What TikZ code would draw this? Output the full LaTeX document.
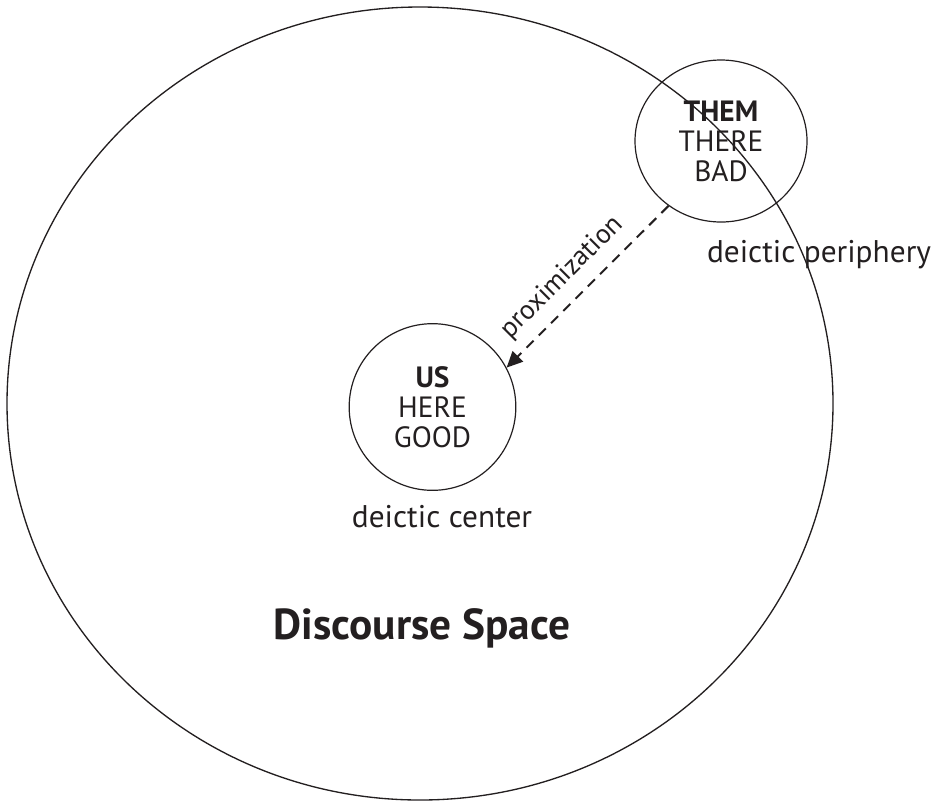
\documentclass[tikz,border=0pt]{standalone}
\usepackage{fontspec}
\setmainfont{PT Sans}
\usetikzlibrary{shapes.geometric, arrows.meta}
\definecolor{ink}{RGB}{35, 31, 32}

\begin{document}
\begin{tikzpicture}[x=0.75pt, y=-0.75pt,
    space/.style={ellipse, draw=ink, line width=1pt, inner sep=0pt,
                  minimum width=619.5pt, minimum height=594.75pt},
    zone/.style={ellipse, draw=ink, line width=0.9pt, inner sep=0pt,
                 align=center, text=ink, font=\fontsize{22}{22.5}\selectfont},
    tag/.style={text=ink, font=\fontsize{23.5}{26}\selectfont},
    arrow/.style={-{Triangle[length=12pt, width=11pt]}, draw=ink,
                  dash pattern=on 7.5pt off 5.5pt, line width=1.5pt}
]
\useasboundingbox (0,0) rectangle (938,801);

%% -- discourse space ---------------------------------------------------------
\node[space] (space) at (420, 403.5) {};
\node[text=ink, font=\fontsize{32.5}{36}\selectfont\bfseries] (title) at (422, 628) {Discourse Space};

%% -- centre and periphery ----------------------------------------------------
\node[zone, minimum width=125pt, minimum height=125pt] (us) at (432.5, 407)
    {\textbf{US}\\HERE\\GOOD};
\node[zone, minimum width=129pt, minimum height=121.5pt] (them) at (721, 141)
    {\textbf{THEM}\\THERE\\BAD};

\node[tag] (center)    at (442, 517) {deictic center};
\node[tag] (periphery) at (819, 255) {deictic periphery};

%% -- arrow -------------------------------------------------------------------
\draw[arrow] (them.231) -- node[pos=0.55, rotate=45, anchor=south, inner sep=0pt,
    outer sep=9pt, text=ink, font=\fontsize{20.5}{22}\selectfont] (prox) {proximization} (us.28);

\end{tikzpicture}
\end{document}
